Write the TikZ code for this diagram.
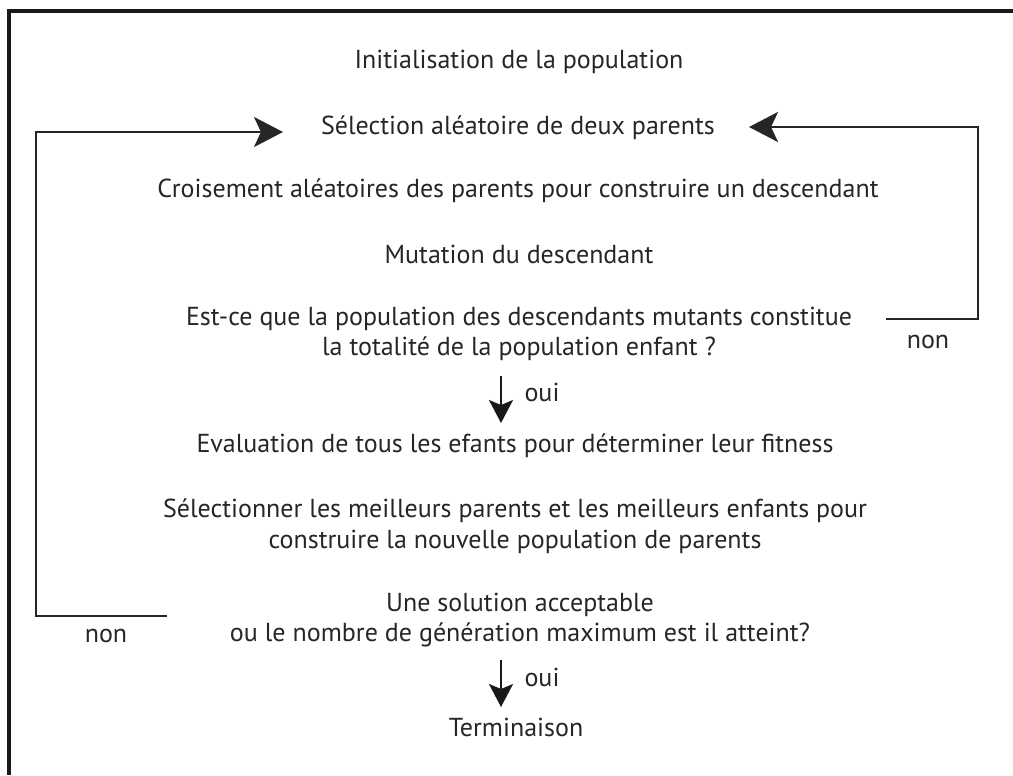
\documentclass[tikz,border=0pt]{standalone}
\usepackage{fontspec}
\setmainfont{PT Sans}
\usetikzlibrary{arrows.meta}
\begin{document}
\begin{tikzpicture}[x=0.02cm,y=-0.02cm,
  txt/.style={inner sep=0pt,font=\fontsize{14.8}{17.5}\selectfont,align=center,text=black!85},
  lbl/.style={inner sep=0pt,font=\fontsize{14.8}{17.5}\selectfont,text=black!85},
  loop/.style={line width=1.6pt,black!85},
  bigtip/.style={-{Stealth[length=0.58cm,width=0.6cm,inset=0.14cm]}},
  downarr/.style={line width=1.2pt,black!90,-{Stealth[length=0.46cm,width=0.48cm,inset=0.1cm]}},
  frame/.style={line width=2pt,black!90}]
\useasboundingbox (0,0) rectangle (1013,775);
\draw[frame] (9,775) -- (9,11) -- (1013,11);
\node[txt] (init) at (519,62) {Initialisation de la population};
\node[txt] (sel) at (518,128) {Sélection aléatoire de deux parents};
\node[txt] (crois) at (518,191) {Croisement aléatoires des parents pour construire un descendant};
\node[txt] (mut) at (519,254) {Mutation du descendant};
\node[txt] (test1) at (519,334) {Est-ce que la population des descendants mutants constitue\\la totalité de la population enfant ?};
\node[txt] (eval) at (515,446) {Evaluation de tous les efants pour déterminer leur fitness};
\node[txt] (best) at (515,526) {Sélectionner les meilleurs parents et les meilleurs enfants pour\\construire la nouvelle population de parents};
\node[txt] (test2) at (520,620) {Une solution acceptable\\ou le nombre de génération maximum est il atteint?};
\node[txt] (term) at (516,727) {Terminaison};
% down arrows
\coordinate (d1s) at (501,376);
\coordinate (d1e) at (501,423);
\draw[downarr] (d1s) -- (d1e);
\node[lbl] (oui1) at (542,392) {oui};
\coordinate (d2s) at (501,660);
\coordinate (d2e) at (501,707);
\draw[downarr] (d2s) -- (d2e);
\node[lbl] (oui2) at (542,677) {oui};
% right loop
\coordinate (r1) at (886,319);
\coordinate (r2) at (978,319);
\coordinate (r3) at (978,127);
\coordinate (r4) at (749,127);
\draw[loop,bigtip] (r1) -- (r2) -- (r3) -- (r4);
\node[lbl] (non1) at (928,342) {non};
% left loop
\coordinate (l1) at (167,616);
\coordinate (l2) at (36,616);
\coordinate (l3) at (36,132);
\coordinate (l4) at (283,132);
\draw[loop,bigtip] (l1) -- (l2) -- (l3) -- (l4);
\node[lbl] (non2) at (106,636) {non};
\end{tikzpicture}
\end{document}
